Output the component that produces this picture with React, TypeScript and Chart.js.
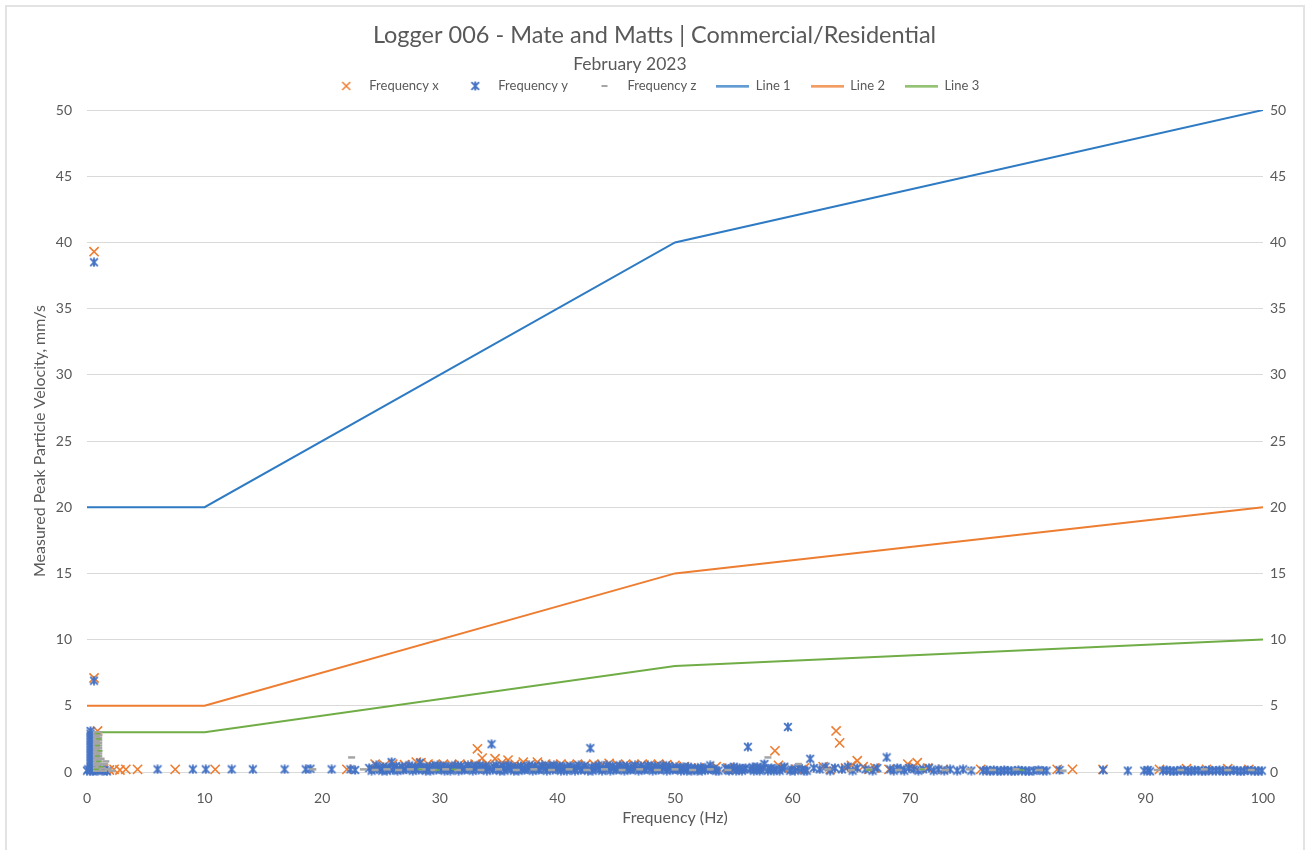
import React, { useEffect, useRef } from "react";
import { Chart, registerables } from "chart.js";
Chart.register(...registerables);

const FONT = "Lato";
const TXT = "#595959";

const titleText = "Logger 006 - Mate and Matts | Commercial/Residential";
const subtitleText = "February 2023" + "\u00a0".repeat(11);
const xTitle = "Frequency (Hz)";
const yTitle = "Measured Peak Particle Velocity, mm/s";

const lineFreqs = [0, 10, 50, 100];
const line1 = [20, 20, 40, 50];
const line2 = [5, 5, 15, 20];
const line3 = [3, 3, 8, 10];

const freqX: number[][] = [
  [0.6, 39.3], [0.6, 7.1], [0.9, 3.1], [0.4, 0.2], [1.4, 0.25], [1.9, 0.15], [2.3, 0.2], [2.8, 0.15],
  [3.3, 0.2], [4.3, 0.2], [7.5, 0.2], [10.9, 0.2], [22.1, 0.2],
  [24.5, 0.6], [25.3, 0.5], [26.0, 0.6], [27.0, 0.55], [28.0, 0.75], [28.4, 0.7], [29.0, 0.6], [29.6, 0.55],
  [30.3, 0.6], [31.0, 0.55], [31.7, 0.6], [32.4, 0.55], [33.0, 0.6], [33.2, 1.75], [33.6, 1.05], [34.0, 0.6],
  [34.7, 1.0], [35.3, 0.7], [35.8, 0.9], [36.4, 0.6], [37.1, 0.75], [37.7, 0.6], [38.3, 0.75], [39.0, 0.6],
  [39.6, 0.55], [40.3, 0.6], [41.0, 0.55], [41.7, 0.6], [42.4, 0.55], [43.1, 0.6], [43.8, 0.55], [44.4, 0.65],
  [45.1, 0.55], [45.8, 0.6], [46.5, 0.55], [47.2, 0.6], [47.9, 0.55], [48.6, 0.6], [49.3, 0.55], [50.0, 0.5],
  [50.8, 0.4], [52.0, 0.3], [53.5, 0.4], [54.5, 0.3], [55.0, 0.2], [57.0, 0.3], [58.5, 1.6], [58.8, 0.5],
  [59.2, 0.3], [60.3, 0.2], [61.0, 0.3], [62.6, 0.4], [63.2, 0.2], [63.7, 3.1], [64.0, 2.2], [64.5, 0.3],
  [65.0, 0.5], [65.5, 0.85], [66.0, 0.4], [66.5, 0.2], [67.0, 0.3], [68.2, 0.2], [69.8, 0.6], [70.3, 0.4],
  [70.6, 0.7], [71.5, 0.3], [72.8, 0.2], [76.0, 0.2], [82.5, 0.2], [83.8, 0.2], [86.4, 0.2], [91.2, 0.2],
  [93.5, 0.25], [95.2, 0.2], [97.0, 0.25], [98.8, 0.2],
];

const freqY: number[][] = [
  [0.3, 0.1], [0.3, 0.3], [0.3, 0.5], [0.3, 0.7], [0.3, 0.9], [0.3, 1.1], [0.3, 1.3], [0.3, 1.5],
  [0.3, 1.7], [0.3, 1.9], [0.3, 2.1], [0.3, 2.3], [0.3, 2.5], [0.3, 2.7], [0.3, 2.9], [0.3, 3.1],
  [0.0, 0.1], [0.1, 0.2], [0.5, 0.05], [0.7, 0.15], [0.9, 0.1], [1.1, 0.2], [1.3, 0.1], [1.5, 0.15], [1.7, 0.05],
  [0.6, 6.9], [0.6, 38.5],
  [6.0, 0.2], [9.0, 0.2], [10.1, 0.2], [12.3, 0.2], [14.1, 0.2], [16.8, 0.2], [18.6, 0.2], [19.0, 0.25],
  [20.8, 0.2], [22.4, 0.2], [22.8, 0.15],
  [24.0, 0.3], [24.2, 0.1], [24.4, 0.2], [24.6, 0.5], [24.8, 0.3], [24.9, 0.2], [25.1, 0.1], [25.2, 0.4],
  [25.4, 0.25], [25.5, 0.1], [25.7, 0.35], [25.9, 0.75], [26.0, 0.15], [26.1, 0.3], [26.3, 0.45], [26.4, 0.1],
  [26.6, 0.25], [26.8, 0.4], [26.9, 0.15], [27.1, 0.2], [27.3, 0.35], [27.4, 0.5], [27.6, 0.25], [27.7, 0.1],
  [27.9, 0.4], [28.0, 0.3], [28.2, 0.15], [28.3, 0.7], [28.5, 0.35], [28.6, 0.2], [28.8, 0.1], [28.9, 0.4],
  [29.1, 0.25], [29.2, 0.1], [29.4, 0.45], [29.5, 0.3], [29.7, 0.15], [29.8, 0.5], [30.0, 0.35], [30.1, 0.2],
  [30.3, 0.45], [30.4, 0.1], [30.6, 0.25], [30.7, 0.4], [30.9, 0.1], [31.0, 0.2], [31.2, 0.35], [31.3, 0.5],
  [31.5, 0.25], [31.6, 0.1], [31.8, 0.45], [31.9, 0.3], [32.1, 0.15], [32.2, 0.2], [32.4, 0.5], [32.5, 0.4],
  [32.7, 0.25], [32.8, 0.1], [33.0, 0.45], [33.1, 0.3], [33.3, 0.15], [33.4, 0.5], [33.6, 0.35], [33.7, 0.2],
  [33.9, 0.45], [34.0, 0.1], [34.2, 0.3], [34.4, 2.1], [34.5, 0.15], [34.6, 0.4], [34.8, 0.5], [34.9, 0.2],
  [35.1, 0.1], [35.2, 0.3], [35.4, 0.45], [35.5, 0.1], [35.7, 0.25], [35.8, 0.5], [36.0, 0.35], [36.1, 0.2],
  [36.3, 0.1], [36.4, 0.4], [36.6, 0.25], [36.7, 0.1], [36.9, 0.45], [37.0, 0.3], [37.2, 0.15], [37.3, 0.2],
  [37.5, 0.35], [37.6, 0.5], [37.8, 0.25], [37.9, 0.1], [38.1, 0.45], [38.2, 0.3], [38.4, 0.15], [38.5, 0.2],
  [38.7, 0.5], [38.8, 0.4], [39.0, 0.25], [39.1, 0.1], [39.3, 0.45], [39.4, 0.3], [39.6, 0.15], [39.7, 0.5],
  [39.9, 0.35], [40.0, 0.2], [40.2, 0.45], [40.3, 0.1], [40.5, 0.25], [40.6, 0.4], [40.8, 0.1], [40.9, 0.2],
  [41.1, 0.45], [41.2, 0.3], [41.4, 0.25], [41.5, 0.1], [41.7, 0.35], [41.8, 0.5], [42.0, 0.15], [42.1, 0.2],
  [42.3, 0.45], [42.4, 0.3], [42.6, 0.1], [42.8, 1.8], [42.9, 0.35], [43.0, 0.1], [43.2, 0.25], [43.3, 0.4],
  [43.5, 0.5], [43.6, 0.2], [43.8, 0.1], [43.9, 0.3], [44.1, 0.2], [44.2, 0.5], [44.4, 0.35], [44.5, 0.1],
  [44.7, 0.45], [44.8, 0.3], [45.0, 0.15], [45.1, 0.2], [45.3, 0.5], [45.4, 0.4], [45.6, 0.25], [45.7, 0.1],
  [45.9, 0.45], [46.0, 0.3], [46.2, 0.15], [46.3, 0.2], [46.5, 0.35], [46.6, 0.5], [46.8, 0.25], [46.9, 0.1],
  [47.1, 0.45], [47.2, 0.3], [47.4, 0.15], [47.5, 0.2], [47.7, 0.5], [47.8, 0.4], [48.0, 0.25], [48.1, 0.1],
  [48.3, 0.45], [48.4, 0.3], [48.6, 0.15], [48.7, 0.2], [48.9, 0.35], [49.0, 0.5], [49.2, 0.25], [49.3, 0.1],
  [49.5, 0.45], [49.6, 0.3], [49.8, 0.15], [49.9, 0.2],
  [50.1, 0.35], [50.2, 0.3], [50.4, 0.2], [50.5, 0.1], [50.7, 0.35], [50.8, 0.2], [51.0, 0.1], [51.1, 0.4],
  [51.3, 0.25], [51.4, 0.1], [51.6, 0.2], [51.7, 0.3], [51.9, 0.1], [52.0, 0.2], [52.2, 0.35], [52.3, 0.1],
  [52.5, 0.2], [52.6, 0.3], [52.8, 0.15], [53.0, 0.5], [53.2, 0.25], [53.3, 0.2], [53.5, 0.1], [53.7, 0.1],
  [54.3, 0.3], [54.5, 0.15], [54.6, 0.1], [54.8, 0.25], [55.0, 0.4], [55.2, 0.1], [55.3, 0.2], [55.5, 0.3],
  [55.7, 0.1], [55.9, 0.2], [56.0, 0.3], [56.2, 1.9], [56.4, 0.2], [56.6, 0.35], [56.7, 0.1], [56.9, 0.2],
  [57.0, 0.4], [57.2, 0.1], [57.3, 0.2], [57.5, 0.3], [57.6, 0.6], [57.9, 0.1], [58.1, 0.25], [58.2, 0.3],
  [58.4, 0.1], [58.6, 0.2], [58.9, 0.1], [59.1, 0.25], [59.3, 0.4], [59.6, 3.4], [59.8, 0.1], [59.9, 0.2],
  [60.2, 0.1], [60.5, 0.3], [60.8, 0.2], [61.0, 0.1], [61.2, 0.1], [61.5, 1.0], [61.8, 0.3], [62.3, 0.2],
  [62.8, 0.4], [63.2, 0.1], [63.6, 0.3], [64.2, 0.2], [64.7, 0.4], [65.1, 0.1], [65.5, 0.3], [66.2, 0.2],
  [66.8, 0.1], [67.2, 0.3], [68.0, 1.1], [68.3, 0.2], [68.6, 0.1], [68.9, 0.3], [69.2, 0.2], [69.5, 0.1],
  [69.9, 0.3], [70.3, 0.2], [70.7, 0.1], [71.1, 0.2], [71.6, 0.3], [72.0, 0.1], [72.4, 0.2], [72.9, 0.1],
  [73.4, 0.2], [74.0, 0.1], [74.5, 0.2], [75.2, 0.1], [76.2, 0.1], [76.5, 0.15], [76.8, 0.05], [77.1, 0.15],
  [77.4, 0.1], [77.7, 0.05], [78.0, 0.15], [78.3, 0.1], [78.6, 0.1], [78.9, 0.05], [79.2, 0.15], [79.5, 0.1],
  [79.8, 0.1], [80.1, 0.05], [80.5, 0.1], [80.9, 0.15], [81.3, 0.1], [81.6, 0.1], [82.7, 0.15], [86.4, 0.15],
  [88.5, 0.1], [89.9, 0.1], [90.2, 0.15], [90.4, 0.05], [91.5, 0.1], [91.8, 0.15], [92.1, 0.1], [92.4, 0.05],
  [92.7, 0.1], [93.0, 0.15], [93.3, 0.1], [93.6, 0.1], [93.9, 0.05], [94.2, 0.15], [94.5, 0.1], [94.8, 0.1],
  [95.1, 0.05], [95.4, 0.15], [95.7, 0.1], [96.0, 0.1], [96.3, 0.15], [96.6, 0.05], [96.9, 0.1], [97.2, 0.1],
  [97.5, 0.15], [97.8, 0.1], [98.1, 0.05], [98.4, 0.1], [98.7, 0.15], [99.0, 0.1], [99.3, 0.1], [99.6, 0.05],
  [99.9, 0.1],
];

const freqZ: number[][] = [
  [0.8, 0.1], [0.8, 0.3], [0.8, 0.5], [0.8, 0.7], [0.8, 0.9], [0.8, 1.1], [0.8, 1.3], [0.8, 1.5],
  [0.8, 1.7], [0.8, 1.9], [0.8, 2.1], [0.8, 2.3], [0.8, 2.5], [0.8, 2.7], [0.8, 2.9], [0.8, 3.0],
  [1.0, 0.2], [1.0, 0.4], [1.0, 0.6], [1.0, 0.8], [1.0, 1.0], [1.0, 1.2], [1.0, 1.4], [1.0, 1.6],
  [1.0, 1.8], [1.0, 2.0], [1.0, 2.2], [1.0, 2.4], [1.0, 2.6], [1.0, 2.8], [1.0, 3.0],
  [1.3, 0.3], [1.5, 0.6], [1.6, 0.8], [1.2, 1.0], [1.4, 0.1], [1.8, 0.2], [2.1, 0.1],
  [19.2, 0.2], [22.5, 1.1], [23.5, 0.2], [24.5, 0.15], [25.5, 0.2], [26.5, 0.15], [27.5, 0.2], [28.5, 0.2],
  [29.5, 0.15], [30.5, 0.2], [31.5, 0.15], [32.5, 0.2], [33.5, 0.15], [35.0, 0.2], [36.5, 0.15], [38.0, 0.2],
  [39.5, 0.15], [41.0, 0.2], [42.5, 0.15], [44.0, 0.2], [45.5, 0.15], [47.0, 0.2], [48.5, 0.15], [50.0, 0.2],
  [51.5, 0.15], [53.0, 0.2], [54.5, 0.15], [57.9, 1.1], [60.5, 0.6], [63.0, 0.2], [65.0, 0.15], [66.5, 0.2],
  [69.0, 0.15], [71.0, 0.2], [73.0, 0.15], [75.0, 0.2], [77.0, 0.15], [79.0, 0.2], [81.0, 0.15], [83.0, 0.1],
  [91.0, 0.15], [93.0, 0.15], [95.0, 0.2], [97.0, 0.15], [99.0, 0.15],
];

const freqExtra: number[][] = [
  [0.9, 2.9], [1.0, 2.5], [0.9, 2.0], [1.1, 1.6], [0.9, 1.2], [1.0, 0.8], [1.2, 0.4], [0.8, 0.2],
  [28.3, 0.2], [29.8, 0.15], [31.2, 0.2], [66.5, 0.15], [71.0, 0.2], [79.5, 0.15],
];

const yTicks = [0, 5, 10, 15, 20, 25, 30, 35, 40, 45, 50];
const xTicks = [0, 10, 20, 30, 40, 50, 60, 70, 80, 90, 100];

const C_X = "#ED7D31";
const C_Y = "#4472C4";
const C_Z = "#A5A5A5";
const C_G = "#70AD47";
const C_L1 = "#2E7BC4";
const C_L2 = "#ED7D31";
const C_L3 = "#70AD47";

function mk(w: number, h: number, draw: (c: CanvasRenderingContext2D) => void) {
  const c = document.createElement("canvas");
  c.width = w;
  c.height = h;
  const ctx = c.getContext("2d")!;
  draw(ctx);
  return c;
}

export default function App() {
  const ref = useRef<HTMLCanvasElement>(null);
  useEffect(() => {
    if (!ref.current) return;
    const blueMark = mk(10, 10, (c) => {
      c.strokeStyle = C_Y;
      c.lineWidth = 1.9;
      c.beginPath();
      c.moveTo(1.2, 1.2); c.lineTo(8.8, 8.8);
      c.moveTo(8.8, 1.2); c.lineTo(1.2, 8.8);
      c.moveTo(5, 0.5); c.lineTo(5, 9.5);
      c.stroke();
    });
    const orangeMark = mk(10, 10, (c) => {
      c.strokeStyle = C_X;
      c.lineWidth = 1.5;
      c.beginPath();
      c.moveTo(1, 1); c.lineTo(9, 9);
      c.moveTo(9, 1); c.lineTo(1, 9);
      c.stroke();
    });
    const grayMark = mk(8, 4, (c) => {
      c.fillStyle = C_Z;
      c.fillRect(1, 1, 6, 2);
    });
    const lineMark = (col: string) =>
      mk(33, 3, (c) => {
        c.fillStyle = col;
        c.fillRect(0, 0.5, 33, 2);
      });
    const legendImgs = [orangeMark, blueMark, grayMark, lineMark(C_L1), lineMark(C_L2), lineMark(C_L3)];

    const toPts = (arr: number[][]) => arr.map((p) => ({ x: p[0], y: p[1] }));
    const linePts = (vals: number[]) => lineFreqs.map((f, i) => ({ x: f, y: vals[i] }));

    const tickFont = { family: FONT, size: 14 };

    const chart = new Chart(ref.current, {
      type: "scatter",
      data: {
        datasets: [
          { label: "Frequency x", data: toPts(freqX), pointStyle: "crossRot", pointRadius: 6.5, pointBorderWidth: 1.6,
            borderColor: C_X, backgroundColor: C_X, showLine: false, clip: false, order: 3 },
          { label: "Frequency y", data: toPts(freqY), pointStyle: blueMark, pointRadius: 5,
            borderColor: C_Y, backgroundColor: C_Y, showLine: false, clip: false, order: 2 },
          { label: "Frequency z", data: toPts(freqZ), pointStyle: "line", pointRadius: 3.5, pointBorderWidth: 2.5,
            borderColor: C_Z, backgroundColor: C_Z, showLine: false, clip: false, order: 1 },
          { label: "Line 1", data: linePts(line1), showLine: true, borderColor: C_L1, backgroundColor: C_L1,
            borderWidth: 2, pointRadius: 0, order: 5 },
          { label: "Line 2", data: linePts(line2), showLine: true, borderColor: C_L2, backgroundColor: C_L2,
            borderWidth: 2, pointRadius: 0, order: 5 },
          { label: "Line 3", data: linePts(line3), showLine: true, borderColor: C_L3, backgroundColor: C_L3,
            borderWidth: 2, pointRadius: 0, order: 5 },
          { label: "", data: toPts(freqExtra), pointStyle: "line", pointRadius: 2.5, pointBorderWidth: 1.5,
            borderColor: C_G, backgroundColor: C_G, showLine: false, clip: false, order: 0 },
        ],
      },
      options: {
        responsive: false,
        animation: false,
        events: [],
        layout: { padding: 0 },
        plugins: {
          title: {
            display: true, text: titleText, color: TXT,
            font: { family: FONT, size: 23.5, weight: "normal" },
            padding: { top: 21, bottom: 0 },
          },
          subtitle: {
            display: true, text: subtitleText, color: TXT,
            font: { family: FONT, size: 17.5, weight: "normal" },
            padding: { top: 4.3, bottom: -15 },
          },
          legend: {
            display: true,
            position: "top",
            labels: {
              usePointStyle: true,
              pointStyleWidth: 33,
              boxHeight: 8,
              padding: 20,
              color: TXT,
              font: { family: FONT, size: 13 },
              filter: (item: any) => item.text !== "",
              generateLabels: (ch: any) => {
                const items = Chart.defaults.plugins.legend.labels.generateLabels(ch);
                items.sort((a: any, b: any) => a.datasetIndex - b.datasetIndex);
                items.forEach((it: any) => {
                  if (it.datasetIndex < legendImgs.length) it.pointStyle = legendImgs[it.datasetIndex];
                });
                return items;
              },
            },
          },
          tooltip: { enabled: false },
        },
        scales: {
          x: {
            type: "linear", position: "bottom", min: 0, max: 100,
            afterBuildTicks: (s: any) => { s.ticks = xTicks.map((v) => ({ value: v })); },
            ticks: { color: TXT, font: tickFont, padding: 10, maxRotation: 0 },
            grid: { display: false },
            border: { display: false },
            title: { display: true, text: xTitle, color: TXT, font: { family: FONT, size: 16 }, padding: { top: 0, bottom: 22.4 } },
            afterFit: (s: any) => { s.height = 78; },
          },
          xTop: {
            type: "linear", position: "top", min: 0, max: 100, display: true,
            ticks: { display: false }, grid: { display: false }, border: { display: false },
            afterFit: (s: any) => { s.height = 7.5; },
          },
          y: {
            type: "linear", position: "left", min: 0, max: 50,
            afterBuildTicks: (s: any) => { s.ticks = yTicks.map((v) => ({ value: v })); },
            ticks: { color: TXT, font: tickFont, padding: 15 },
            grid: { color: "#D9D9D9", drawTicks: false, lineWidth: 1 },
            border: { display: false },
            title: { display: true, text: yTitle, color: TXT, font: { family: FONT, size: 16 }, padding: { top: 30.4, bottom: 0 } },
            afterFit: (s: any) => { s.width = 87; },
          },
          y2: {
            type: "linear", position: "right", min: 0, max: 50,
            afterBuildTicks: (s: any) => { s.ticks = yTicks.map((v) => ({ value: v })); },
            ticks: { color: TXT, font: tickFont, padding: 7 },
            grid: { display: false, drawTicks: false },
            border: { display: false },
            afterFit: (s: any) => { s.width = 46; },
          },
        },
      } as any,
    });
    return () => chart.destroy();
  }, []);

  return (
    <div style={{ position: "absolute", left: 0, top: 0, width: 1309, height: 850, background: "#fff", overflow: "hidden" }}>
      <div style={{ position: "absolute", left: 5, top: 5, width: 1296, height: 860, border: "2px solid #E3E3E3" }} />
      <canvas ref={ref} width={1309} height={850} style={{ position: "absolute", left: 0, top: 0, width: 1309, height: 850 }} />
    </div>
  );
}
